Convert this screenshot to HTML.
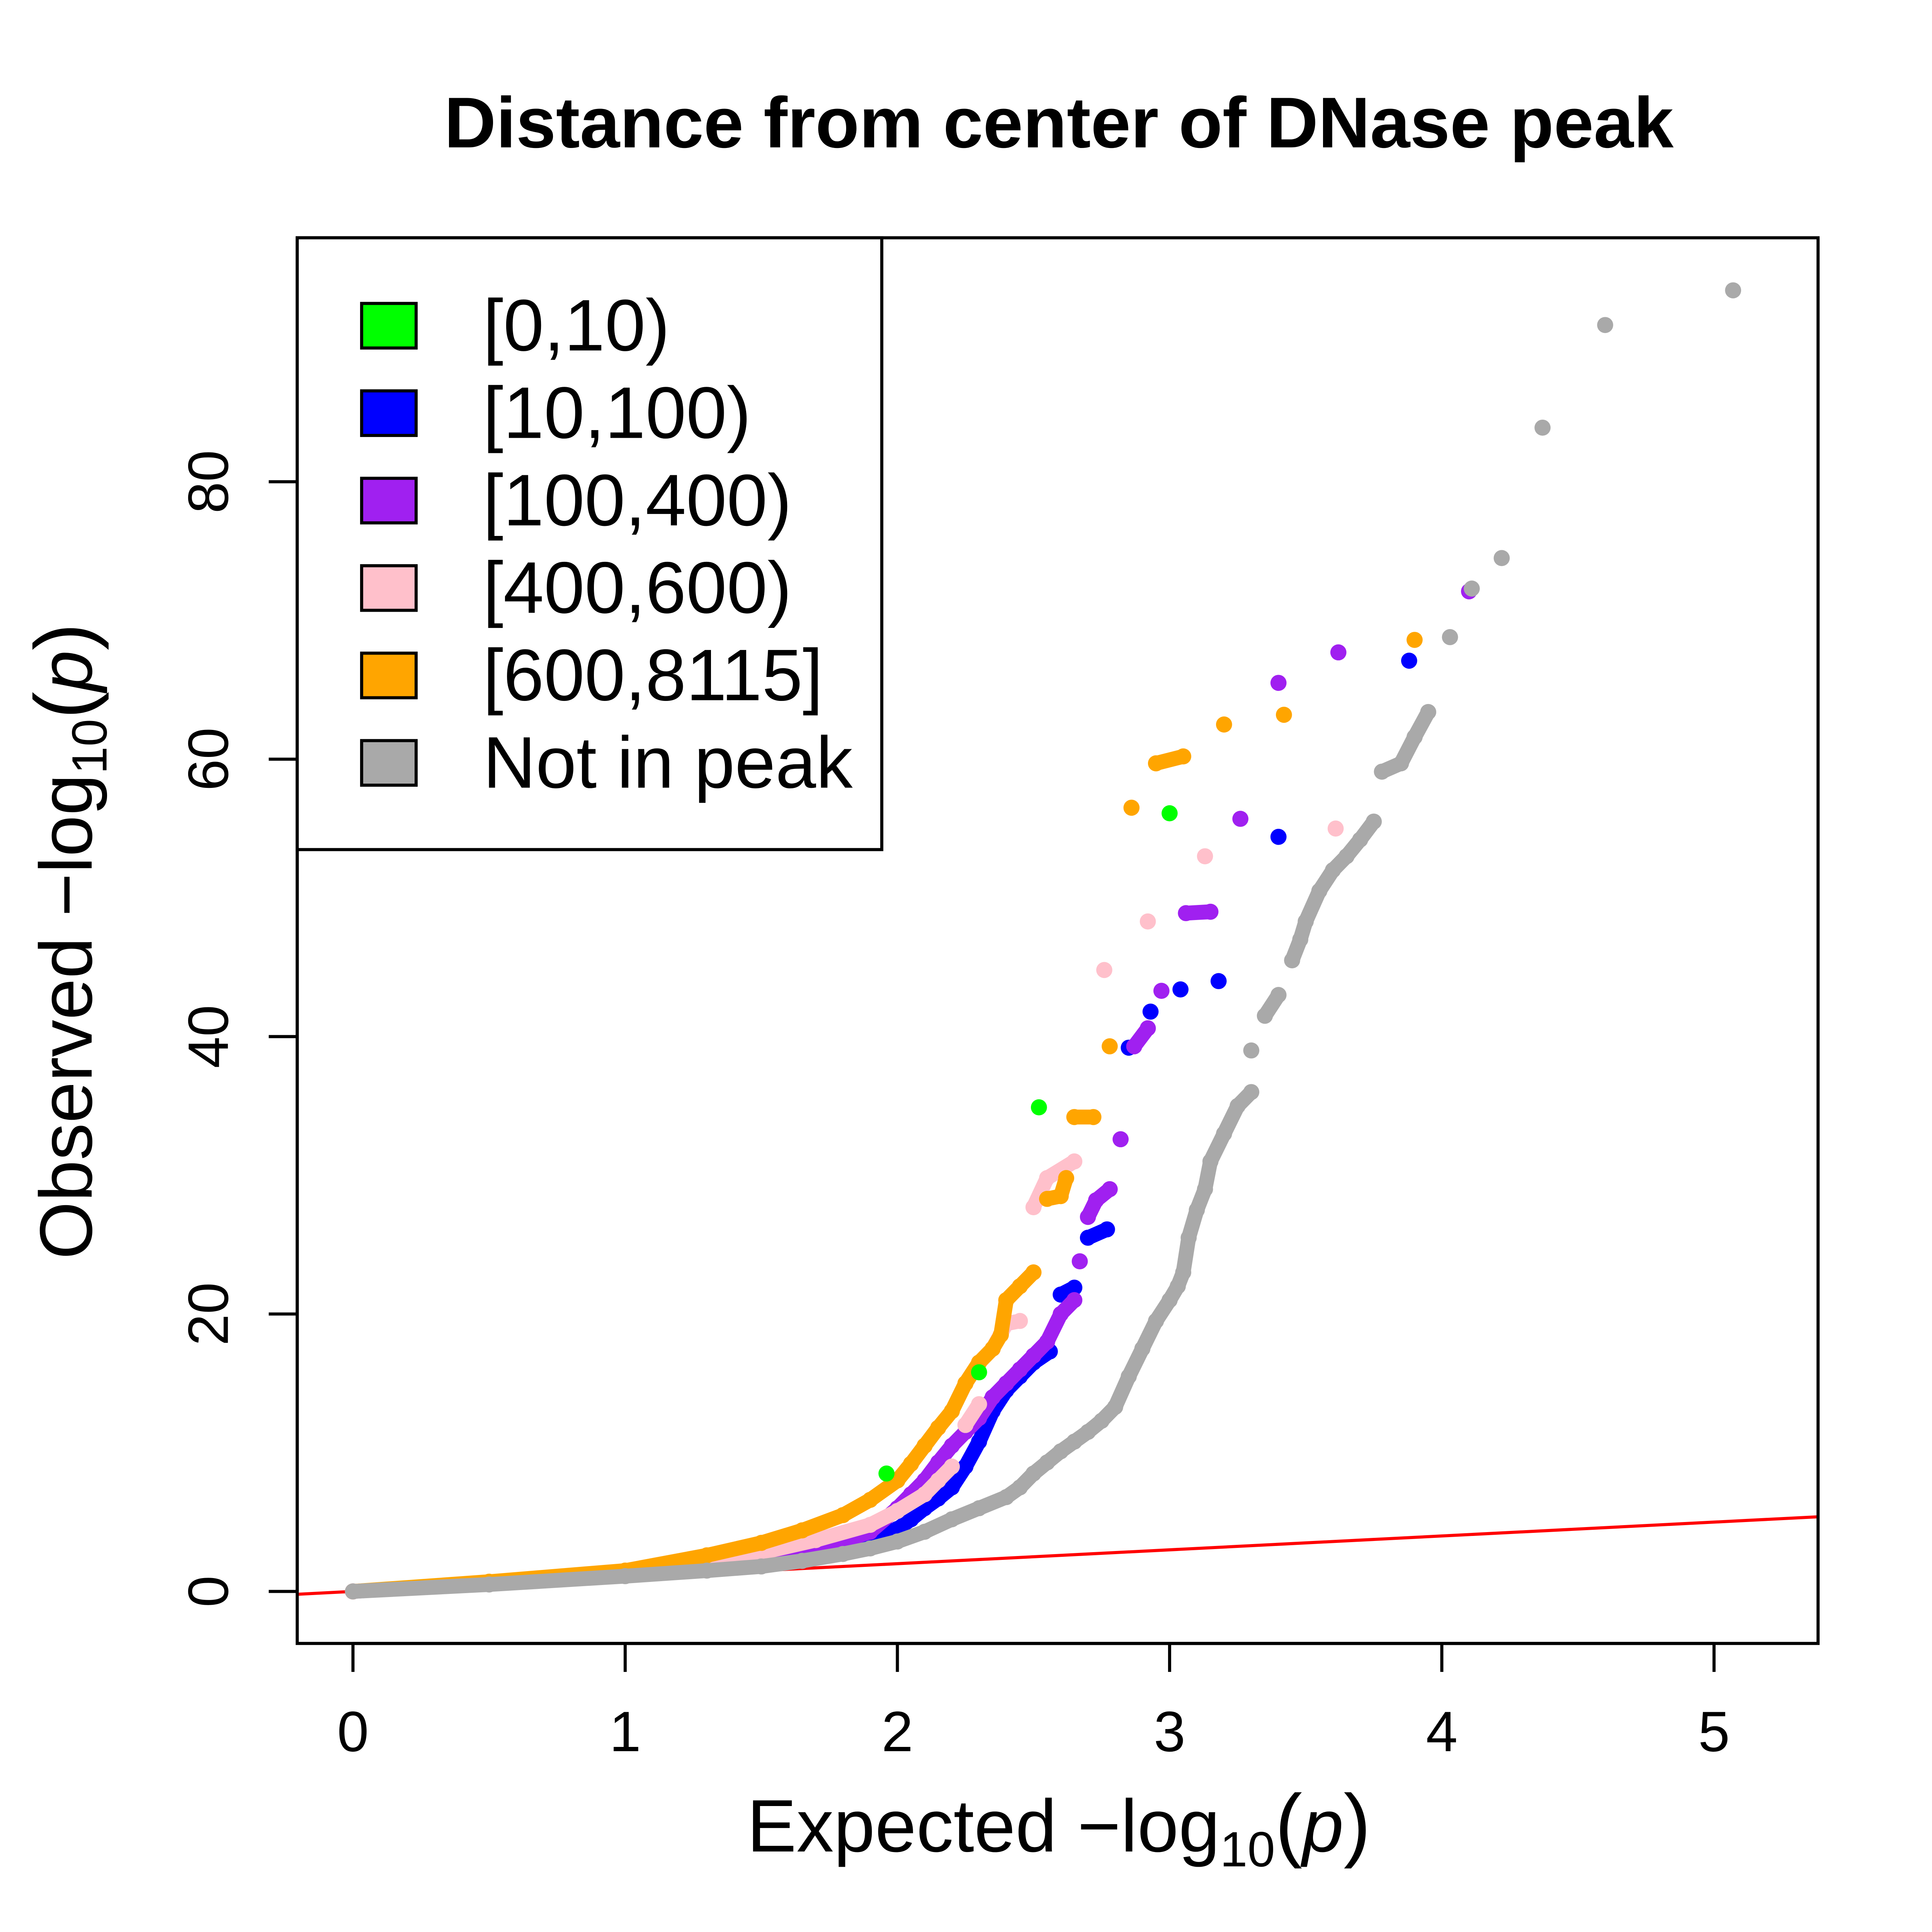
<!DOCTYPE html>
<html><head><meta charset="utf-8"><style>html,body{margin:0;padding:0;background:#fff;overflow:hidden;width:100%;height:100%}svg{display:block;position:absolute;left:0;top:0;width:100vw;height:100vh}</style></head>
<body>
<svg id="chart" viewBox="0 0 1560 1560" preserveAspectRatio="none" xmlns="http://www.w3.org/2000/svg" font-family="'Liberation Sans', sans-serif">
<rect width="1560" height="1560" fill="#fff"/>
<text x="855" y="119" text-anchor="middle" font-size="58" font-weight="bold">Distance from center of DNase peak</text>
<g id="marks"></g>
<rect x="240" y="192" width="1228" height="1135" fill="none" stroke="#000" stroke-width="2.5"/>
<g id="axes"></g>
<text x="855" y="1495" text-anchor="middle" font-size="60">Expected −log<tspan font-size="40" dy="12">10</tspan><tspan dy="-12" font-size="66">(</tspan><tspan font-style="italic">p</tspan><tspan font-size="66">)</tspan></text>
<text transform="translate(74,760) rotate(-90)" text-anchor="middle" font-size="60">Observed −log<tspan font-size="40" dy="12">10</tspan><tspan dy="-12" font-size="66">(</tspan><tspan font-style="italic">p</tspan><tspan font-size="66">)</tspan></text>
<g>
<rect x="240" y="192" width="472" height="494" fill="#fff" stroke="#000" stroke-width="2.5"/>
<g id="legend-entries"></g>
</g>
</svg>
<script>
const seriesNames = ["[0,10)","[10,100)","[100,400)","[400,600)","[600,8115]","Not in peak"];
const seriesColors = ["#00ff00","#0000ff","#a020f0","#ffc0cb","#ffa500","#a9a9a9"];
const xTicks = [0,1,2,3,4,5];
const yTicks = [0,20,40,60,80];
const greenX = [1.96,2.3,2.52,3.0];
const greenY = [8.5,15.8,34.9,56.1];
const blueX = [0,0.5,1,1.4,1.7,1.85,2,2.05,2.1,2.15,2.2,2.25,2.3,2.35,2.4,2.45,2.5,2.56,2.6,2.65,2.7,2.77,2.85,2.93,3.04,3.18,3.4,3.88];
const blueY = [0,0.6,1.2,2,2.8,3.5,4.5,5.2,6,6.7,7.5,9,10.8,13,14.5,15.5,16.5,17.3,21.4,21.9,25.5,26.1,39.2,41.8,43.4,44,54.4,67.1];
const purpleX = [0,0.5,1,1.3,1.6,1.75,1.9,2,2.05,2.1,2.15,2.2,2.25,2.3,2.35,2.4,2.45,2.5,2.55,2.6,2.65,2.67,2.7,2.73,2.78,2.82,2.87,2.92,2.97,3.06,3.15,3.26,3.4,3.62,4.1];
const purpleY = [0,0.6,1.2,1.9,2.6,3.3,4.3,6,7,8,9.3,10.5,11.5,12.5,14,15,16,17,18,20,21,23.8,27,28.2,29,32.6,39.3,40.6,43.3,48.9,49,55.7,65.5,67.7,72.1];
const pinkX = [0,0.5,1,1.3,1.5,1.7,1.9,2,2.1,2.15,2.2,2.25,2.3,2.35,2.4,2.45,2.5,2.55,2.65,2.76,2.92,3.13,3.61];
const pinkY = [0,0.6,1.3,2,2.8,3.7,4.8,5.8,7,8,9,12,13.5,17.5,19.3,19.5,27.7,29.8,31,44.8,48.3,53,55];
const orangeX = [0,0.5,1,1.3,1.5,1.65,1.8,1.9,2,2.05,2.1,2.15,2.2,2.25,2.3,2.35,2.38,2.4,2.45,2.5,2.55,2.6,2.62,2.65,2.72,2.78,2.86,2.95,3.05,3.2,3.42,3.9];
const orangeY = [0,0.7,1.5,2.6,3.5,4.4,5.5,6.6,8,9.2,10.5,11.8,13,15,16.5,17.5,18.5,21,22,23,28.3,28.5,29.8,34.2,34.2,39.3,56.5,59.7,60.2,62.5,63.2,68.6];
const grayX = [0,0.5,1,1.3,1.5,1.65,1.8,1.9,2,2.1,2.2,2.3,2.4,2.45,2.5,2.55,2.6,2.65,2.7,2.75,2.8,2.85,2.9,2.95,3,3.03,3.05,3.07,3.1,3.13,3.15,3.2,3.25,3.3,3.3,3.35,3.4,3.45,3.48,3.5,3.55,3.6,3.65,3.7,3.75,3.78,3.85,3.9,3.95,4.03,4.11,4.22,4.37,4.6,5.07];
const grayY = [0,0.5,1.1,1.5,1.8,2.2,2.7,3.1,3.6,4.3,5.2,6,6.8,7.5,8.5,9.3,10.1,10.8,11.5,12.3,13.3,15.5,17.5,19.5,21,22,23,25.5,27.5,29,31,33,35,36,39,41.5,43,45.5,47,48.3,50.5,52,53,54.2,55.5,59.1,59.7,61.6,63.4,68.8,72.3,74.5,83.9,91.3,93.8];

const NS="http://www.w3.org/2000/svg";
const xs = v => 285 + v*219.8;
const ys = v => 1285 - v*11.2;
const marks = document.getElementById('marks');
const axes = document.getElementById('axes');
function mk(tag, attrs, parent){const e=document.createElementNS(NS,tag);for(const k in attrs)e.setAttribute(k,attrs[k]);parent.appendChild(e);return e;}

const ref = mk('line',{x1:240,y1:ys(-0.205),x2:1468,y2:ys(5.38),stroke:'#ff0000','stroke-width':2.5},marks);



const drawOrder = [[1,blueX,blueY],[2,purpleX,purpleY],[3,pinkX,pinkY],[4,orangeX,orangeY],[0,greenX,greenY],[5,grayX,grayY]];
drawOrder.forEach(([si,X,Y])=>{
  const g = mk('g',{},marks);
  
  
  for(let i=1;i<X.length;i++){
    const x1=xs(X[i-1]),y1=ys(Y[i-1]),x2=xs(X[i]),y2=ys(Y[i]);
    if(Math.hypot(x2-x1,y2-y1)<30 || (X[i]<2.05 && si!==0)){
      const l=mk('line',{x1:x1,y1:y1,x2:x2,y2:y2,stroke:seriesColors[si],'stroke-width':12,'stroke-linecap':'round'},g);
      
      
    }
  }
  for(let i=0;i<X.length;i++){
    const c=mk('circle',{cx:xs(X[i]),cy:ys(Y[i]),r:6.5,fill:seriesColors[si]},g);
    
    
  }
});

const xa = mk('line',{x1:xs(xTicks[0]),y1:1327,x2:xs(xTicks[xTicks.length-1]),y2:1327,stroke:'#000','stroke-width':2.5},axes);


xTicks.forEach(t=>{
  const l=mk('line',{x1:xs(t),y1:1327,x2:xs(t),y2:1350,stroke:'#000','stroke-width':2.5},axes);
  
  
  const tx=mk('text',{x:xs(t),y:1414,'text-anchor':'middle','font-size':46},axes);
  tx.textContent=t;
  
  
});
const ya = mk('line',{x1:240,y1:ys(yTicks[0]),x2:240,y2:ys(yTicks[yTicks.length-1]),stroke:'#000','stroke-width':2.5},axes);


yTicks.forEach(t=>{
  const l=mk('line',{x1:217,y1:ys(t),x2:240,y2:ys(t),stroke:'#000','stroke-width':2.5},axes);
  
  
  const tx=mk('text',{transform:`translate(184,${ys(t)}) rotate(-90)`,'text-anchor':'middle','font-size':46},axes);
  tx.textContent=t;
  
  
});

const le = document.getElementById('legend-entries');
seriesNames.forEach((n,i)=>{
  const y = 263 + i*70.6;
  const g = mk('g',{},le);
  
  
  const r=mk('rect',{x:292,y:y-18,width:44,height:36,fill:seriesColors[i],stroke:'#000','stroke-width':2.5},g);
  
  
  const t=mk('text',{x:390,y:y+20,'font-size':59},g);
  t.textContent=n;
  
  
});
</script>
</body></html>
